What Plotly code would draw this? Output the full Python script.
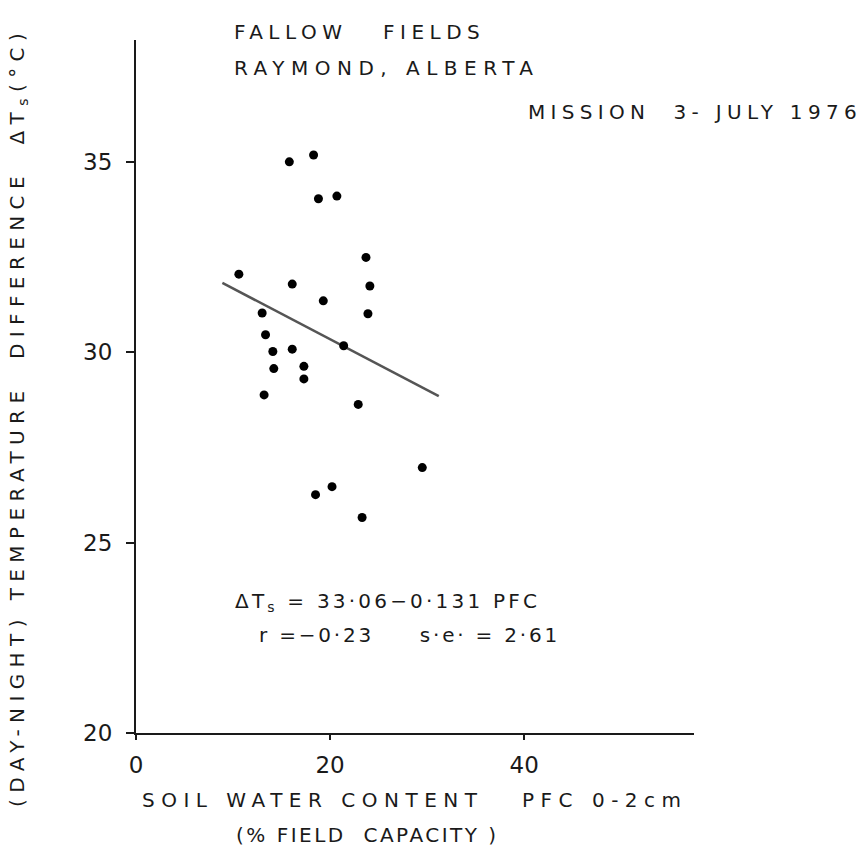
import plotly.graph_objects as go

# Data
pfc = [15.8, 18.3, 18.8, 20.7, 23.7, 10.6, 16.1, 24.1, 19.3, 13.0, 23.9, 13.35,
       14.1, 16.1, 21.4, 14.2, 17.3, 17.3, 13.2, 22.9, 29.5, 18.5, 20.2, 23.3]
dts = [35.0, 35.18, 34.03, 34.1, 32.49, 32.05, 31.79, 31.74, 31.35, 31.03, 31.01, 30.46,
       30.02, 30.08, 30.17, 29.57, 29.63, 29.30, 28.88, 28.63, 26.97, 26.26, 26.47, 25.66]
fit_x = [8.9, 31.2]
fit_y = [31.82, 28.85]
x_ticks = [0, 20, 40]
y_ticks = [20, 25, 30, 35]

FONT = "DejaVu Sans"
INK = "#1a1a1a"

def sp(text, ls):
    return f'<span style="letter-spacing:{ls}px">{text}</span>'

fig = go.Figure()
fig.add_trace(go.Scatter(x=fit_x, y=fit_y, mode="lines",
                         line=dict(color="#555555", width=2.5), hoverinfo="skip"))
fig.add_trace(go.Scatter(x=pfc, y=dts, mode="markers",
                         marker=dict(color="black", size=9)))

ann = dict(showarrow=False, xref="paper", yref="paper",
           font=dict(family=FONT, size=20, color=INK))
annotations = [
    dict(text=sp("FALLOW   FIELDS", 5.5), x=0.172, y=1.0115, xanchor="left", yanchor="middle"),
    dict(text=sp("RAYMOND, ALBERTA", 6.5), x=0.172, y=0.9596, xanchor="left", yanchor="middle"),
    dict(text=sp("MISSION  3- JULY 1976", 5.3), x=0.699, y=0.896, xanchor="left", yanchor="middle"),
    dict(text=sp("ΔT<sub>s</sub> = 33·06−0·131 PFC", 3.2), x=0.174, y=0.189, xanchor="left", yanchor="middle"),
    dict(text=sp("r =−0·23     s·e· = 2·61", 2.8), x=0.217, y=0.1414, xanchor="left", yanchor="middle"),
    dict(text=sp("SOIL WATER CONTENT   PFC 0-2cm", 6.5), x=0.5, y=-0.0967, xanchor="center", yanchor="middle"),
    dict(text=sp("(% FIELD  CAPACITY )", 2.5), x=0.414, y=-0.147, xanchor="center", yanchor="middle"),
    dict(text=sp("(DAY-NIGHT) TEMPERATURE  DIFFERENCE  ΔT<sub>s</sub>(°C)", 6.4),
         x=-0.2115, y=0.456, xanchor="center", yanchor="middle", textangle=-90),
]
fig.update_layout(annotations=[{**ann, **a} for a in annotations])

fig.update_layout(
    width=864, height=853,
    margin=dict(l=136, r=170, t=40, b=120),
    paper_bgcolor="white", plot_bgcolor="white",
    showlegend=False,
    xaxis=dict(range=[0, 57.5], tickvals=x_ticks, ticktext=[str(v) for v in x_ticks],
               showgrid=False, zeroline=False, showline=True, linecolor=INK, linewidth=2,
               ticks="outside", ticklen=5, tickwidth=1.5, tickcolor=INK,
               ticklabelstandoff=5,
               tickfont=dict(family=FONT, size=23, color=INK)),
    yaxis=dict(range=[20, 38.2], tickvals=y_ticks, ticktext=[str(v) for v in y_ticks],
               showgrid=False, zeroline=False, showline=True, linecolor=INK, linewidth=2,
               ticks="outside", ticklen=8, tickwidth=1.5, tickcolor=INK,
               ticklabelstandoff=9,
               tickfont=dict(family=FONT, size=23, color=INK)),
)

fig.write_html("out.html")
